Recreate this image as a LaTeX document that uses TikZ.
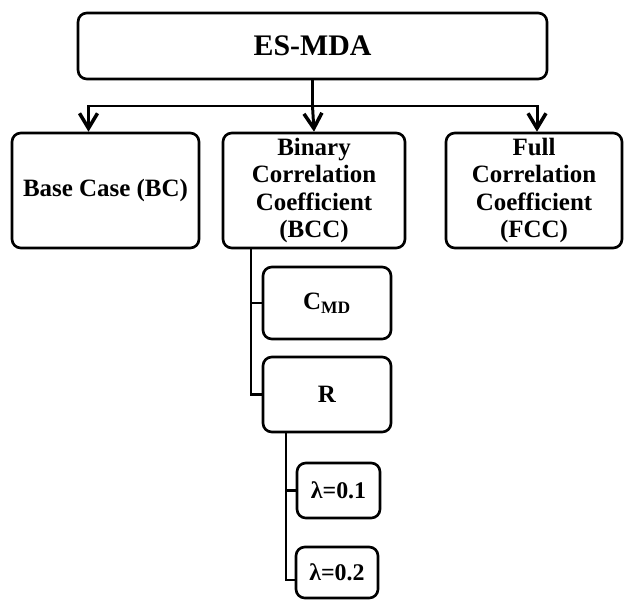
\documentclass[tikz,border=0pt]{standalone}
\usepackage{fontspec}
\setmainfont{Liberation Serif}
\usetikzlibrary{arrows.meta}

\begin{document}
\begin{tikzpicture}[
  x=0.02cm, y=-0.02cm,
  box/.style={rectangle, rounded corners=5pt, draw=black, line width=1.5pt,
              align=center, inner sep=1pt,
              font=\bfseries\fontsize{14.2}{15.6}\selectfont},
  topbox/.style={box, minimum width=9.38cm, minimum height=1.32cm,
                 font=\bfseries\fontsize{17}{19}\selectfont},
  mainbox/.style={box, minimum height=2.3cm},
  subbox/.style={box, minimum width=2.56cm},
  lambox/.style={box, font=\bfseries\fontsize{13.6}{15}\selectfont},
  arr/.style={-{Straight Barb[length=0.3cm, width=0.36cm, line width=2pt]}, line width=1.7pt},
  branch/.style={line width=1.2pt}
]
\useasboundingbox (0,0) rectangle (624,599);

\node[topbox] (esmda) at (312.5,46) {ES-MDA};
\node[mainbox, minimum width=3.74cm] (bc)  at (105.5,190.5) {Base Case (BC)};
\node[mainbox, minimum width=3.64cm] (bcc) at (314,190.5) {Binary\\Correlation\\Coefficient\\(BCC)};
\node[mainbox, minimum width=3.52cm] (fcc) at (534,190.5) {Full\\Correlation\\Coefficient\\(FCC)};
\node[subbox, minimum height=1.44cm] (cmd) at (327,303) {C\textsubscript{MD}};
\node[subbox, minimum height=1.5cm]  (r)   at (327,394.5) {R};
\node[lambox, minimum width=1.66cm, minimum height=1.1cm]  (lam1) at (338.5,490.5) {λ=0.1};
\node[lambox, minimum width=1.64cm, minimum height=1.02cm] (lam2) at (337,572.5) {λ=0.2};

\coordinate (split) at (312.5,106);
\draw[line width=1.7pt] (esmda.south) -- (split);
\draw[arr] (split) -| ([xshift=-0.34cm]bc.north);
\draw[arr] (split) -- (bcc.north);
\draw[arr] (split) -| ([xshift=0.06cm]fcc.north);

\draw[branch] ([xshift=0.58cm]bcc.south west) |- (cmd.west);
\draw[branch] ([xshift=0.58cm]bcc.south west) |- (r.west);
\draw[branch] ([xshift=0.48cm]r.south west) |- (lam1.west);
\draw[branch] ([xshift=0.48cm]r.south west) |- ([yshift=-0.15cm]lam2.west);
\end{tikzpicture}
\end{document}
